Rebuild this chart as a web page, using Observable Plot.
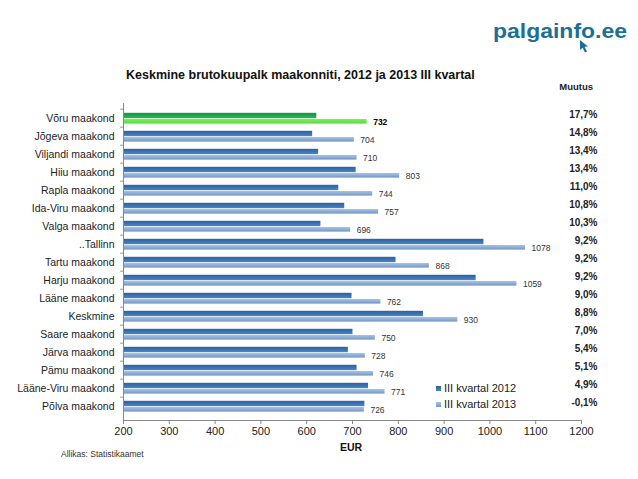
<!DOCTYPE html>
<html>
<head>
<meta charset="utf-8">
<script src="https://cdn.jsdelivr.net/npm/d3@7"></script>
<script src="https://cdn.jsdelivr.net/npm/@observablehq/plot@0.6"></script>
<style>
  body { margin: 0; background: #fff; font-family: "Liberation Sans", Arial, Helvetica, sans-serif; }
  #wrap { position: relative; width: 638px; height: 479px; overflow: hidden; background: #fff; }
  .abs { position: absolute; white-space: nowrap; }
  #chart { position: absolute; left: 0; top: 0; }
</style>
</head>
<body>
<div id="wrap">
  <div id="chart"></div>
  <svg class="abs" style="left:480px;top:0px" width="158" height="60">
    <text x="13" y="38" font-family="Liberation Sans, Arial, sans-serif" font-size="21" font-weight="bold"
          textLength="134" lengthAdjust="spacingAndGlyphs" fill="#1d6f95">palgainfo.ee</text>
    <path d="M100,40 L100,50 L102.6,47.8 L105,52.5 L107,51.5 L104.6,46.8 L108,46.5 Z" fill="#1d6f95"/>
  </svg>
  <div class="abs" style="left:126px;top:67px;font-size:12.5px;line-height:16px;font-weight:bold;color:#111;">Keskmine brutokuupalk maakonniti, 2012 ja 2013 III kvartal</div>
  <div class="abs" style="right:45px;top:80px;font-size:9.5px;line-height:13px;font-weight:bold;color:#222;text-align:right;">Muutus</div>
  <div class="abs" style="left:340px;top:440px;font-size:10.5px;line-height:14px;font-weight:bold;color:#111;">EUR</div>
  <div class="abs" style="left:61px;top:448px;font-size:8.5px;line-height:12px;color:#333;">Allikas: Statistikaamet</div>
  <div class="abs" id="legend" style="left:436px;top:380px;font-size:11px;line-height:16px;color:#222;">
    <div><span style="display:inline-block;width:5px;height:5px;margin-right:3px;vertical-align:1px;background:linear-gradient(#2b609e,#4f86c3);"></span><span id="leg1"></span></div>
    <div><span style="display:inline-block;width:5px;height:5px;margin-right:3px;vertical-align:1px;background:linear-gradient(#a9c3e3,#7598c6);"></span><span id="leg2"></span></div>
  </div>
</div>
<script>
// ---- data ----
const regions = ["Võru maakond","Jõgeva maakond","Viljandi maakond","Hiiu maakond","Rapla maakond","Ida-Viru maakond","Valga maakond","..Tallinn","Tartu maakond","Harju maakond","Lääne maakond","Keskmine","Saare maakond","Järva maakond","Pämu maakond","Lääne-Viru maakond","Põlva maakond"];
const values2012 = [622,613,626,708,670,683,631,987,795,970,699,855,701,691,710,735,727];
const values2013 = [732,704,710,803,744,757,696,1078,868,1059,762,930,750,728,746,771,726];
const changes = ["17,7%","14,8%","13,4%","13,4%","11,0%","10,8%","10,3%","9,2%","9,2%","9,2%","9,0%","8,8%","7,0%","5,4%","5,1%","4,9%","-0,1%"];
const seriesNames = ["III kvartal 2012","III kvartal 2013"];
const xTicks = [200,300,400,500,600,700,800,900,1000,1100,1200];
const highlight = "Võru maakond";

document.getElementById("leg1").textContent = seriesNames[0];
document.getElementById("leg2").textContent = seriesNames[1];

const data = regions.map((r, i) => ({region: r, v12: values2012[i], v13: values2013[i], change: changes[i]}));

const W = 638, H = 479, mt = 103, mb = 59, ml = 123, mr = 57;
const band = (H - mt - mb) / regions.length;

const plot = Plot.plot({
  width: W, height: H,
  marginTop: mt, marginBottom: mb, marginLeft: ml, marginRight: mr,
  style: {fontFamily: "'Liberation Sans', Arial, Helvetica, sans-serif", fontSize: "10.5px", color: "#222", background: "transparent"},
  x: {domain: [xTicks[0], xTicks[xTicks.length - 1]], label: null},
  y: {domain: regions, padding: 0, label: null},
  marks: [
    Plot.barX(data, {y: "region", x: "v12", clip: true, insetTop: 3.8, insetBottom: 8.8,
      fill: d => d.region === highlight ? "url(#g12g)" : "url(#g12)"}),
    Plot.barX(data, {y: "region", x: "v13", clip: true, insetTop: 10, insetBottom: 3.4,
      fill: d => d.region === highlight ? "url(#g13g)" : "url(#g13)"}),
    Plot.text(data.filter(d => d.region !== highlight), {y: "region", x: "v13", text: d => String(d.v13),
      dx: 6, dy: 4, textAnchor: "start", fontSize: 8.5, fill: "#333"}),
    Plot.text(data.filter(d => d.region === highlight), {y: "region", x: "v13", text: d => String(d.v13),
      dx: 6, dy: 4, textAnchor: "start", fontSize: 8.5, fontWeight: "bold", fill: "#000"}),
    Plot.text(data, {y: "region", frameAnchor: "right", text: "change", textAnchor: "end",
      dx: 16, dy: -4, fontSize: 10, fontWeight: "bold", fill: "#222"}),
    Plot.axisX({ticks: xTicks, tickFormat: d => String(d), tickSize: 4, tickPadding: 3, fontSize: 11, label: null, stroke: "#888", fill: "#222"}),
    Plot.axisY({tickSize: 0, tickPadding: 9, fontSize: 10.5, label: null, fill: "#222"}),
    Plot.axisY({tickSize: 3, tickFormat: () => "", label: null, dy: -band / 2, stroke: "#999"}),
    Plot.frame({anchor: "left", stroke: "#888"}),
    Plot.frame({anchor: "bottom", stroke: "#888"})
  ]
});

const svgSel = d3.select(plot);
const defs = svgSel.insert("defs", ":first-child");
function grad(id, stops) {
  const g = defs.append("linearGradient").attr("id", id).attr("x1", 0).attr("y1", 0).attr("x2", 0).attr("y2", 1);
  stops.forEach(([o, c]) => g.append("stop").attr("offset", o).attr("stop-color", c));
}
grad("g12", [[0, "#2b609e"], [0.5, "#3a72b2"], [1, "#4f86c3"]]);
grad("g13", [[0, "#a9c3e3"], [0.45, "#91b0d8"], [1, "#7094c3"]]);
grad("g12g", [[0, "#12993e"], [1, "#28b552"]]);
grad("g13g", [[0, "#7cf05c"], [1, "#55dd3a"]]);

document.getElementById("chart").appendChild(plot);
</script>
</body>
</html>
